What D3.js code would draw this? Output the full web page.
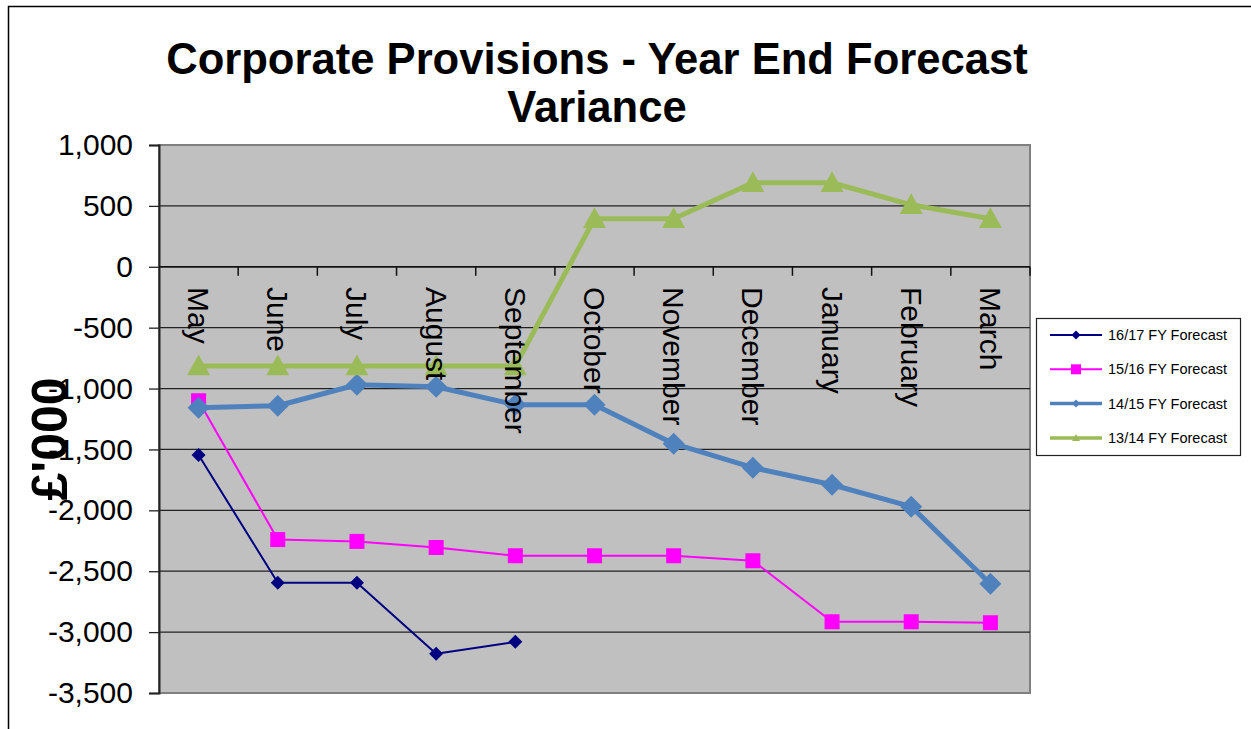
<!DOCTYPE html>
<html>
<head>
<meta charset="utf-8">
<script src="https://cdn.jsdelivr.net/npm/d3@7"></script>
<style>
  body { margin: 0; background: #fff; }
  text { font-family: Arial, 'Liberation Sans', sans-serif; }
</style>
</head>
<body>
<div id="chart0"></div>
<script>
// ---------------- data ----------------
var months = ['May', 'June', 'July', 'August', 'September', 'October',
  'November', 'December', 'January', 'February', 'March'];
var yTicks = [1000, 500, 0, -500, -1000, -1500, -2000, -2500, -3000, -3500];
var fy1617 = [-1545, -2595, -2595, -3178, -3080, null, null, null, null, null, null];
var fy1516 = [-1100, -2240, -2255, -2305, -2373, -2373, -2373, -2414, -2915, -2915, -2923];
var fy1415 = [-1158, -1141, -969, -985, -1133, -1133, -1453, -1650, -1790, -1970, -2603];
var fy1314 = [-815, -815, -815, -815, -815, 394, 394, 690, 690, 509, 394];
var seriesNames = ['16/17 FY Forecast', '15/16 FY Forecast', '14/15 FY Forecast', '13/14 FY Forecast'];

var W = 1251, H = 729;
var plot = { left: 159, right: 1030, top: 145, bottom: 693 };

var svg = d3.select('#chart0').append('svg')
  .attr('width', W).attr('height', H);

// outer chart frame
svg.append('rect')
  .attr('x', 8.5).attr('y', 6.5).attr('width', 1400).attr('height', 900)
  .attr('fill', 'none').attr('stroke', '#000').attr('stroke-width', 1.5);

// title
var title = svg.append('text')
  .attr('text-anchor', 'middle')
  .style('font-weight', 'bold').style('font-size', '43.6px');
title.append('tspan').attr('x', 597).attr('y', 74).text('Corporate Provisions - Year End Forecast');
title.append('tspan').attr('x', 597).attr('y', 122).text('Variance');

var x = d3.scaleBand().domain(months).range([plot.left, plot.right]).padding(0);
var y = d3.scaleLinear().domain([-3500, 1000]).range([plot.bottom, plot.top]);
var cx = function (m) { return x(m) + x.bandwidth() / 2; };

// plot area
svg.append('rect')
  .attr('x', plot.left).attr('y', plot.top)
  .attr('width', plot.right - plot.left).attr('height', plot.bottom - plot.top)
  .attr('fill', '#C0C0C0').attr('stroke', '#808080').attr('stroke-width', 2);

// gridlines
svg.append('g').selectAll('line').data(yTicks.filter(function (d) { return d > -3500 && d < 1000; }))
  .enter().append('line')
  .attr('x1', plot.left).attr('x2', plot.right)
  .attr('y1', function (d) { return y(d); }).attr('y2', function (d) { return y(d); })
  .attr('stroke', '#222').attr('stroke-width', 1.3);

// y axis (plain hyphen for negatives, like the original)
var fmt = d3.format(',');
var yAxis = d3.axisLeft(y).tickValues(yTicks).tickSize(10).tickPadding(16)
  .tickFormat(function (d) { return fmt(d).replace('\u2212', '-'); });
var yg = svg.append('g').attr('transform', 'translate(' + plot.left + ',0)').call(yAxis);
yg.select('.domain').attr('stroke', '#222').attr('stroke-width', 2);
yg.selectAll('.tick line').attr('stroke', '#222').attr('stroke-width', 1.3);
yg.selectAll('.tick text').style('font-size', '30px').attr('fill', '#000')
  .attr('font-family', null);

// y axis title
svg.append('text')
  .attr('transform', 'translate(67,439) rotate(-90)')
  .attr('text-anchor', 'middle')
  .style('font-weight', 'bold').style('font-size', '50px')
  .text("£'000");

// x axis at zero
var xg = svg.append('g');
xg.append('line')
  .attr('x1', plot.left).attr('x2', plot.right)
  .attr('y1', y(0)).attr('y2', y(0))
  .attr('stroke', '#111').attr('stroke-width', 1.5);
xg.selectAll('line.tk').data(months.slice(1).concat(['end']))
  .enter().append('line').attr('class', 'tk')
  .attr('x1', function (d, i) { return plot.left + (i + 1) * x.bandwidth(); })
  .attr('x2', function (d, i) { return plot.left + (i + 1) * x.bandwidth(); })
  .attr('y1', y(0)).attr('y2', y(0) + 9)
  .attr('stroke', '#111').attr('stroke-width', 1.5);

// series
var line = d3.line()
  .defined(function (d) { return d.v !== null; })
  .x(function (d) { return cx(d.m); })
  .y(function (d) { return y(d.v); });

function pts(arr) {
  return arr.map(function (v, i) { return { m: months[i], v: v }; })
    .filter(function (d) { return d.v !== null; });
}

var styles = [
  { data: fy1617, color: '#000080', width: 2, shape: 'diamond', size: 7 },
  { data: fy1516, color: '#FF00FF', width: 2, shape: 'square', size: 7.5 },
  { data: fy1415, color: '#4F81BD', width: 5, shape: 'diamond', size: 11 },
  { data: fy1314, color: '#9BBB59', width: 5, shape: 'triangle', size: 11.5 }
];

function markerPath(shape, s) {
  if (shape === 'diamond') return 'M0,' + (-s) + 'L' + s + ',0L0,' + s + 'L' + (-s) + ',0Z';
  if (shape === 'square') return 'M' + (-s) + ',' + (-s) + 'h' + (2 * s) + 'v' + (2 * s) + 'h' + (-2 * s) + 'Z';
  return 'M0,' + (-s) + 'L' + s + ',' + (s * 0.8) + 'L' + (-s) + ',' + (s * 0.8) + 'Z';
}

styles.forEach(function (st) {
  var p = pts(st.data);
  svg.append('path').datum(p)
    .attr('d', line)
    .attr('fill', 'none').attr('stroke', st.color).attr('stroke-width', st.width)
    .attr('stroke-linejoin', 'round');
  svg.append('g').selectAll('path').data(p).enter().append('path')
    .attr('transform', function (d) { return 'translate(' + cx(d.m) + ',' + y(d.v) + ')'; })
    .attr('d', markerPath(st.shape, st.size))
    .attr('fill', st.color);
});

// category labels (vertical)
svg.append('g').selectAll('text').data(months).enter().append('text')
  .attr('transform', function (d) { return 'translate(' + cx(d) + ',287) rotate(90)'; })
  .attr('dy', '0.35em')
  .style('font-size', '30px')
  .text(function (d) { return d; });

// legend
var lg = svg.append('g');
lg.append('rect')
  .attr('x', 1036.5).attr('y', 318.5).attr('width', 204).attr('height', 137)
  .attr('fill', '#fff').attr('stroke', '#222').attr('stroke-width', 1.2);
styles.forEach(function (st, i) {
  var ly = 335 + i * 34.3;
  lg.append('line')
    .attr('x1', 1050).attr('x2', 1102).attr('y1', ly).attr('y2', ly)
    .attr('stroke', st.color).attr('stroke-width', st.width === 2 ? 2 : 3.5);
  lg.append('path')
    .attr('transform', 'translate(1076,' + ly + ')')
    .attr('d', markerPath(st.shape, st.shape === 'square' ? 5 : (st.width === 2 ? 4.5 : 4)))
    .attr('fill', st.color);
  lg.append('text')
    .attr('x', 1108).attr('y', ly).attr('dy', '0.35em')
    .style('font-size', '14.5px')
    .text(seriesNames[i]);
});
</script>
</body>
</html>
